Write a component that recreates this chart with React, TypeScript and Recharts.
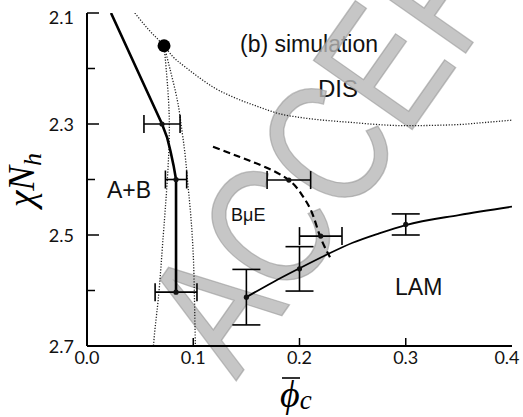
import { ComposedChart, Line, Scatter, XAxis, YAxis, ErrorBar } from 'recharts'

// axis ticks
const xTicks = [0, 0.1, 0.2, 0.3, 0.4]
const yTicks = [2.1, 2.2, 2.3, 2.4, 2.5, 2.6, 2.7]
const topTicks = [0.1, 0.2, 0.3]
const rightTicks = [2.2, 2.3, 2.4, 2.5, 2.6]

// A+B / microemulsion boundary (solid, thick)
const abBoundary = [
  { x: 0.0226, y: 2.1 },
  { x: 0.0466, y: 2.2 },
  { x: 0.0706, y: 2.3 },
  { x: 0.0755, y: 2.325 },
  { x: 0.0787, y: 2.35 },
  { x: 0.0815, y: 2.375 },
  { x: 0.0838, y: 2.4 },
  { x: 0.0838, y: 2.5 },
  { x: 0.0838, y: 2.603 },
]

// spinodals below the critical point (dotted)
const leftSpinodal = [
  { x: 0.0725, y: 2.159 },
  { x: 0.0745, y: 2.2 },
  { x: 0.0765, y: 2.25 },
  { x: 0.0775, y: 2.3 },
  { x: 0.077, y: 2.35 },
  { x: 0.0756, y: 2.4 },
  { x: 0.0738, y: 2.45 },
  { x: 0.0718, y: 2.5 },
  { x: 0.0695, y: 2.56 },
  { x: 0.067, y: 2.617 },
  { x: 0.0645, y: 2.66 },
  { x: 0.0625, y: 2.7 },
]
const rightSpinodal = [
  { x: 0.0725, y: 2.159 },
  { x: 0.078, y: 2.2 },
  { x: 0.085, y: 2.257 },
  { x: 0.0885, y: 2.3 },
  { x: 0.092, y: 2.35 },
  { x: 0.0945, y: 2.4 },
  { x: 0.097, y: 2.45 },
  { x: 0.099, y: 2.5 },
  { x: 0.1003, y: 2.55 },
  { x: 0.101, y: 2.6 },
  { x: 0.1015, y: 2.65 },
  { x: 0.102, y: 2.7 },
]

// order-disorder line (dotted)
const disBoundary = [
  { x: 0.045, y: 2.1 },
  { x: 0.058, y: 2.13 },
  { x: 0.0725, y: 2.159 },
  { x: 0.081, y: 2.179 },
  { x: 0.093, y: 2.198 },
  { x: 0.106, y: 2.217 },
  { x: 0.12, y: 2.235 },
  { x: 0.137, y: 2.251 },
  { x: 0.16, y: 2.268 },
  { x: 0.182, y: 2.282 },
  { x: 0.2, y: 2.288 },
  { x: 0.2475, y: 2.297 },
  { x: 0.3, y: 2.303 },
  { x: 0.35, y: 2.301 },
  { x: 0.37, y: 2.298 },
  { x: 0.4, y: 2.293 },
]

// BmuE boundary (dashed)
const bmeBoundary = [
  { x: 0.1186, y: 2.341 },
  { x: 0.144, y: 2.3595 },
  { x: 0.1675, y: 2.3775 },
  { x: 0.19, y: 2.401 },
  { x: 0.2024, y: 2.428 },
  { x: 0.2118, y: 2.46 },
  { x: 0.2193, y: 2.502 },
  { x: 0.2287, y: 2.54 },
]

// LAM boundary (solid)
const lamBoundary = [
  { x: 0.15, y: 2.612 },
  { x: 0.175, y: 2.585 },
  { x: 0.2, y: 2.56 },
  { x: 0.225, y: 2.536 },
  { x: 0.25, y: 2.514 },
  { x: 0.275, y: 2.497 },
  { x: 0.3, y: 2.482 },
  { x: 0.35, y: 2.464 },
  { x: 0.4, y: 2.449 },
]

const criticalPoint = [{ x: 0.0725, y: 2.159 }]

// simulation points with error bars
const abPoints = [
  { x: 0.0706, y: 2.3, ex: 0.017 },
  { x: 0.0838, y: 2.4, ex: 0.01 },
  { x: 0.0838, y: 2.603, ex: 0.0197 },
]
const bmePoints = [
  { x: 0.19, y: 2.401, ex: 0.0205 },
  { x: 0.22, y: 2.502, ex: 0.02 },
]
const lamPoints = [
  { x: 0.15, y: 2.612, ey: 0.05 },
  { x: 0.2, y: 2.561, ey: 0.04 },
  { x: 0.3, y: 2.481, ey: 0.019 },
]

const numFont = 'Lato, "Open Sans", sans-serif'
const txtFont = '"Liberation Sans", Arial, sans-serif'
const mathFont = '"Liberation Serif", "DejaVu Serif", serif'

const LeftTick = (p: any) => {
  const v = p.payload.value
  const major = Math.round(v * 10) % 2 === 1
  return (
    <g>
      <line x1={p.x} x2={p.x + (major ? 12 : 8)} y1={p.y} y2={p.y} stroke="#000" strokeWidth={1.5} />
      {major && (
        <text x={p.x - 13} y={p.y + (v === 2.1 ? 5 : 1)} dy={6} textAnchor="end" fontSize={18} fontFamily={numFont} fill="#111">
          {v.toFixed(1)}
        </text>
      )}
    </g>
  )
}

const BottomTick = (p: any) => {
  const v = p.payload.value
  const edge = v === 0 || v === 0.4
  return (
    <g>
      {!edge && <line x1={p.x} x2={p.x} y1={p.y} y2={p.y - 8} stroke="#000" strokeWidth={1.5} />}
      <text x={v === 0.4 ? p.x - 5 : p.x} y={p.y + 18} textAnchor="middle" fontSize={18} fontFamily={numFont} fill="#111">
        {v.toFixed(1)}
      </text>
    </g>
  )
}

const TopTick = (p: any) => (
  <line x1={p.x} x2={p.x} y1={p.y} y2={p.y + 8} stroke="#000" strokeWidth={1.5} />
)

const RightTick = (p: any) => (
  <line x1={p.x} x2={p.x - 9} y1={p.y} y2={p.y} stroke="#000" strokeWidth={1.5} />
)

const SmallDot = (p: any) => <circle cx={p.cx} cy={p.cy} r={2.6} fill="#111" />
const BigDot = (p: any) => <circle cx={p.cx} cy={p.cy} r={6.5} fill="#000" />

export default function App() {
  return (
    <div style={{ position: 'absolute', left: 0, top: 0, width: 523, height: 417, background: '#fff' }}>
      <ComposedChart width={523} height={417} margin={{ top: 13, right: 11, bottom: 0, left: 0 }}>
        <XAxis
          dataKey="x"
          type="number"
          domain={[0, 0.4]}
          ticks={xTicks}
          allowDataOverflow
          height={71}
          tickSize={0}
          tickMargin={0}
          tickLine={false}
          axisLine={{ stroke: '#000', strokeWidth: 2 }}
          tick={BottomTick}
          interval={0}
        />
        <XAxis
          xAxisId="top"
          orientation="top"
          type="number"
          domain={[0, 0.4]}
          ticks={topTicks}
          allowDataOverflow
          height={0}
          tickSize={0}
          tickMargin={0}
          tickLine={false}
          axisLine={{ stroke: '#000', strokeWidth: 1.5 }}
          tick={TopTick}
          interval={0}
        />
        <YAxis
          dataKey="y"
          type="number"
          domain={[2.1, 2.7]}
          reversed
          ticks={yTicks}
          allowDataOverflow
          width={87}
          tickSize={0}
          tickMargin={0}
          tickLine={false}
          axisLine={{ stroke: '#000', strokeWidth: 2 }}
          tick={LeftTick}
          interval={0}
        />
        <YAxis
          yAxisId="right"
          orientation="right"
          type="number"
          domain={[2.1, 2.7]}
          reversed
          ticks={rightTicks}
          allowDataOverflow
          width={0}
          tickSize={0}
          tickMargin={0}
          tickLine={false}
          axisLine={{ stroke: '#000', strokeWidth: 1.5 }}
          tick={RightTick}
          interval={0}
        />

        <Line data={disBoundary} dataKey="y" type="monotone" stroke="#222" strokeWidth={1.3} strokeDasharray="1.2 1.6" dot={false} activeDot={false} isAnimationActive={false} />
        <Line data={leftSpinodal} dataKey="y" type="natural" stroke="#222" strokeWidth={1.3} strokeDasharray="1.2 1.6" dot={false} activeDot={false} isAnimationActive={false} />
        <Line data={rightSpinodal} dataKey="y" type="natural" stroke="#222" strokeWidth={1.3} strokeDasharray="1.2 1.6" dot={false} activeDot={false} isAnimationActive={false} />
        <Line data={abBoundary} dataKey="y" type="linear" stroke="#000" strokeWidth={2.6} dot={false} activeDot={false} isAnimationActive={false} />
        <Line data={bmeBoundary} dataKey="y" type="natural" stroke="#000" strokeWidth={2.2} strokeDasharray="7 4" dot={false} activeDot={false} isAnimationActive={false} />
        <Line data={lamBoundary} dataKey="y" type="monotone" stroke="#000" strokeWidth={1.8} dot={false} activeDot={false} isAnimationActive={false} />

        <Scatter data={abPoints} shape={SmallDot} isAnimationActive={false}>
          <ErrorBar dataKey="ex" direction="x" width={9} stroke="#000" strokeWidth={1.6} />
        </Scatter>
        <Scatter data={bmePoints} shape={SmallDot} isAnimationActive={false}>
          <ErrorBar dataKey="ex" direction="x" width={9} stroke="#000" strokeWidth={1.6} />
        </Scatter>
        <Scatter data={lamPoints} shape={SmallDot} isAnimationActive={false}>
          <ErrorBar dataKey="ey" direction="y" width={14} stroke="#000" strokeWidth={1.6} />
        </Scatter>
        <Scatter data={criticalPoint} shape={BigDot} isAnimationActive={false} />

        {/* region labels */}
        <text x={240} y={52} fontSize={23} fontFamily={txtFont} fill="#111">(b) simulation</text>
        <text x={318} y={97} fontSize={24} fontFamily={txtFont} fill="#111">DIS</text>
        <text x={107} y={198} fontSize={23} fontFamily={txtFont} fill="#111">A+B</text>
        <text x={231} y={221} fontSize={18} fontFamily={txtFont} fill="#111">BμE</text>
        <text x={395} y={295} fontSize={23} fontFamily={txtFont} fill="#111">LAM</text>

        {/* axis titles */}
        <text x={34} y={180} textAnchor="middle" fontSize={37} fontStyle="italic" fontFamily={mathFont} fill="#000" transform="rotate(-90 34 180)">
          χN<tspan fontSize={26} dy={7}>h</tspan>
        </text>
        <line x1={282} x2={300} y1={378} y2={378} stroke="#000" strokeWidth={1.6} />
        <text x={280} y={407} fontSize={38} fontStyle="italic" fontFamily={mathFont} fill="#000">
          ϕ<tspan fontSize={27} dy={2}>c</tspan>
        </text>

        {/* watermark */}
        <text
          x={0}
          y={0}
          fontSize={175}
          fontFamily={txtFont}
          fill="#b8b8b8"
          fillOpacity={0.8}
          stroke="#9a9a9a"
          strokeWidth={1.5}
          strokeOpacity={0.6}
          transform="translate(236 381) rotate(-55) scale(0.8 1)"
        >
          ACCEPTED
        </text>
      </ComposedChart>
    </div>
  )
}
